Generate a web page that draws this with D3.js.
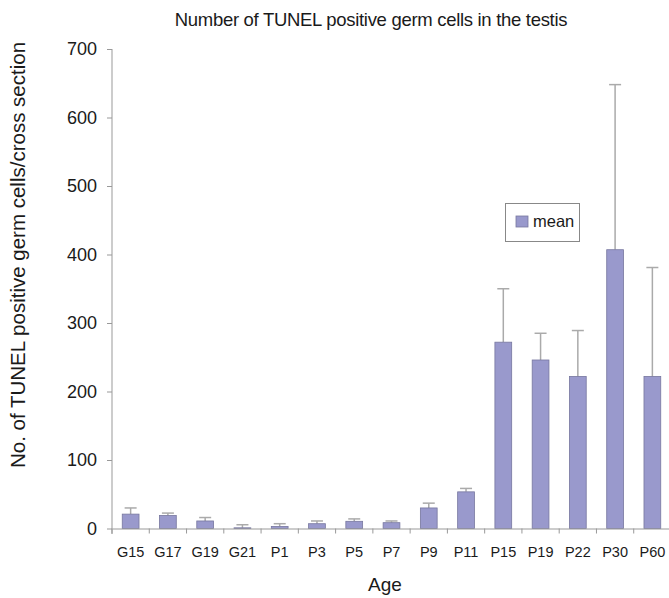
<!DOCTYPE html>
<html>
<head>
<meta charset="utf-8">
<script src="https://cdn.jsdelivr.net/npm/d3@7"></script>
<style>
  html, body { margin: 0; padding: 0; background: #fff; }
  svg { display: block; font-family: "Liberation Sans", Arial, sans-serif; }
</style>
</head>
<body>
<svg id="chart"></svg>
<script>
let w = 669;
let h = 598;

// data
let ages = ["G15", "G17", "G19", "G21", "P1", "P3", "P5", "P7", "P9", "P11", "P15", "P19", "P22", "P30", "P60"];
let means = [21, 19, 11, 1, 3, 7, 10.5, 8.5, 30, 53.5, 272, 246, 222, 407, 222];
let errors = [9, 3.5, 5, 4.5, 4, 4, 3.5, 2.5, 7, 5, 78, 39, 67, 241, 159];
let yTicks = [0, 100, 200, 300, 400, 500, 600, 700];

let data = ages.map((a, i) => ({ age: a, mean: means[i], err: errors[i] }));

let chart = d3.select("#chart")
    .attr("width", w)
    .attr("height", h);

let xScale = d3.scaleBand()
    .domain(ages)
    .range([112, 671])
    .paddingInner(0.55)
    .paddingOuter(0.275);

let yScale = d3.scaleLinear()
    .domain([0, 700])
    .range([528.5, 49]);

let barFill = "#9999cc";
let barStroke = "#77779f";
let errColor = "#aaaaaa";
let axisColor = "#999999";
let textColor = "#1a1a1a";

// error bars (upper only), drawn under the bars
let errG = chart.append("g")
    .attr("stroke", errColor)
    .attr("stroke-width", 1.5);

errG.selectAll("line.v")
    .data(data)
    .join("line")
    .attr("class", "v")
    .attr("x1", d => xScale(d.age) + xScale.bandwidth() / 2)
    .attr("x2", d => xScale(d.age) + xScale.bandwidth() / 2)
    .attr("y1", d => yScale(d.mean))
    .attr("y2", d => yScale(d.mean + d.err));

errG.selectAll("line.cap")
    .data(data)
    .join("line")
    .attr("class", "cap")
    .attr("x1", d => xScale(d.age) + xScale.bandwidth() / 2 - 6)
    .attr("x2", d => xScale(d.age) + xScale.bandwidth() / 2 + 6)
    .attr("y1", d => yScale(d.mean + d.err))
    .attr("y2", d => yScale(d.mean + d.err));

// bars
chart.append("g")
    .selectAll("rect")
    .data(data)
    .join("rect")
    .attr("x", d => xScale(d.age))
    .attr("y", d => yScale(d.mean))
    .attr("width", xScale.bandwidth())
    .attr("height", d => yScale(0) - yScale(d.mean))
    .attr("fill", barFill)
    .attr("stroke", barStroke)
    .attr("stroke-width", 0.8);

// y axis
let yAxis = d3.axisLeft(yScale)
    .tickValues(yTicks)
    .tickSize(5)
    .tickPadding(10)
    .tickSizeOuter(0);

let yAxisGroup = chart.append("g")
    .attr("transform", "translate(112, 0)")
    .call(yAxis);
yAxisGroup.select(".domain").attr("stroke", axisColor).attr("d", "M0,49V534");
yAxisGroup.selectAll(".tick line").attr("stroke", axisColor);
yAxisGroup.selectAll(".tick text")
    .attr("fill", textColor)
    .attr("font-size", 18);

// x axis: labels centred on bands, ticks on band boundaries
let xAxis = d3.axisBottom(xScale)
    .tickSize(0)
    .tickPadding(18)
    .tickSizeOuter(0);

let xAxisGroup = chart.append("g")
    .attr("transform", `translate(0, ${yScale(0)})`)
    .call(xAxis);
xAxisGroup.select(".domain").attr("stroke", axisColor);
xAxisGroup.selectAll(".tick text")
    .attr("fill", textColor)
    .attr("font-size", 14.5);

let step = xScale.step();
let bounds = ages.map(a => xScale(a) - step * xScale.paddingInner() / 2).concat([671]);
xAxisGroup.selectAll("line.bound")
    .data(bounds)
    .join("line")
    .attr("class", "bound")
    .attr("x1", d => d)
    .attr("x2", d => d)
    .attr("y1", 0)
    .attr("y2", 5)
    .attr("stroke", axisColor);

// titles
chart.append("text")
    .attr("x", 371)
    .attr("y", 26)
    .attr("text-anchor", "middle")
    .attr("font-size", 18.5)
    .attr("letter-spacing", -0.3)
    .attr("fill", textColor)
    .text("Number of TUNEL positive germ cells in the testis");

chart.append("text")
    .attr("transform", "translate(25, 255) rotate(-90)")
    .attr("text-anchor", "middle")
    .attr("font-size", 20.5)
    .attr("fill", textColor)
    .text("No. of TUNEL positive germ cells/cross section");

chart.append("text")
    .attr("x", 385)
    .attr("y", 591)
    .attr("text-anchor", "middle")
    .attr("font-size", 19)
    .attr("fill", textColor)
    .text("Age");

// legend
let legend = chart.append("g");
legend.append("rect")
    .attr("x", 505.5)
    .attr("y", 203.5)
    .attr("width", 74)
    .attr("height", 38)
    .attr("fill", "#fff")
    .attr("stroke", "#888");
legend.append("rect")
    .attr("x", 516)
    .attr("y", 216)
    .attr("width", 12)
    .attr("height", 11)
    .attr("fill", barFill)
    .attr("stroke", barStroke)
    .attr("stroke-width", 0.8);
legend.append("text")
    .attr("x", 533)
    .attr("y", 226.5)
    .attr("font-size", 16.5)
    .attr("fill", textColor)
    .text("mean");
</script>
</body>
</html>
